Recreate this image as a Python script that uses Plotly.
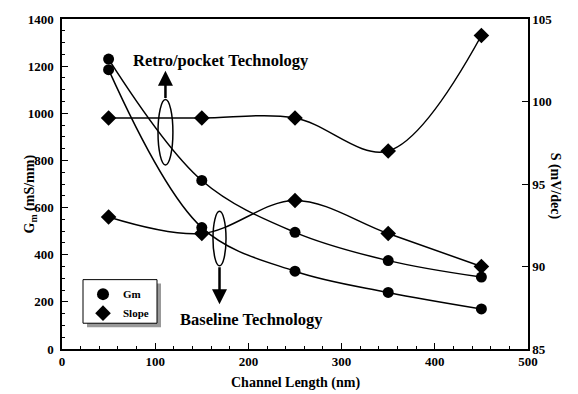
import plotly.graph_objects as go

# ---- data ----
channel_length = [50, 150, 250, 350, 450]
gm_retro = [1230, 715, 495, 375, 305]
gm_baseline = [1185, 515, 330, 240, 170]
slope_retro = [99, 99, 99, 97, 104]
slope_baseline = [93, 92, 94, 92, 90]

x_ticks = [0, 100, 200, 300, 400, 500]
gm_ticks = [0, 200, 400, 600, 800, 1000, 1200, 1400]
s_ticks = [85, 90, 95, 100, 105]

FONT = "Liberation Serif, Times New Roman, serif"
line_style = dict(color="black", width=1.5, shape="spline", smoothing=1.0)

fig = go.Figure()
for ys in (gm_retro, gm_baseline):
    fig.add_trace(go.Scatter(x=channel_length, y=ys, mode="lines+markers",
                             line=line_style,
                             marker=dict(symbol="circle", size=11, color="black"),
                             showlegend=False, yaxis="y"))
for ys in (slope_retro, slope_baseline):
    fig.add_trace(go.Scatter(x=channel_length, y=ys, mode="lines+markers",
                             line=line_style,
                             marker=dict(symbol="diamond", size=12, color="black"),
                             showlegend=False, yaxis="y2"))
# legend-only entries
fig.add_trace(go.Scatter(x=[None], y=[None], mode="markers", name="Gm",
                         marker=dict(symbol="circle", size=13, color="black")))
fig.add_trace(go.Scatter(x=[None], y=[None], mode="markers", name="Slope",
                         marker=dict(symbol="diamond", size=13, color="black")))

tickfont = dict(family=FONT, size=13, color="black", weight="bold")

fig.update_layout(
    width=578, height=394,
    margin=dict(l=62, r=50, t=16, b=45),
    paper_bgcolor="white", plot_bgcolor="white",
    font=dict(family=FONT, color="black"),
    xaxis=dict(range=[0, 500], tickvals=x_ticks, ticks="inside", ticklen=6,
               tickwidth=1, tickcolor="black",
               minor=dict(dtick=20, ticks="inside", ticklen=3, tickcolor="black"),
               showline=True, linecolor="black", linewidth=1.5, mirror=True,
               showgrid=False, zeroline=False, tickfont=tickfont),
    yaxis=dict(range=[0, 1400], tickvals=gm_ticks, ticks="inside", ticklen=6,
               tickwidth=1, tickcolor="black",
               minor=dict(dtick=50, ticks="inside", ticklen=3, tickcolor="black"),
               showline=True, linecolor="black", linewidth=1.5,
               showgrid=False, zeroline=False, tickfont=tickfont,
               ticklabelstandoff=4),
    yaxis2=dict(range=[85, 105], tickvals=s_ticks, ticks="inside", ticklen=6,
                tickwidth=1, tickcolor="black", overlaying="y", side="right",
                showline=True, linecolor="black", linewidth=1.5,
                showgrid=False, zeroline=False, tickfont=tickfont),
    legend=dict(x=(83 - 62) / 466, y=1 - (279 - 16) / 333,
                xanchor="left", yanchor="top",
                bgcolor="rgba(0,0,0,0)", borderwidth=0,
                font=dict(family=FONT, size=11, weight="bold"),
                itemsizing="constant", tracegroupgap=0),
    showlegend=True,
)

# titles
fig.add_annotation(text="Channel Length (nm)", xref="paper", yref="paper",
                   x=0.5, y=-0.102, showarrow=False, yanchor="middle",
                   font=dict(family=FONT, size=14, weight="bold"))
fig.add_annotation(text="G<sub>m</sub> (mS/mm)", xref="paper", yref="paper",
                   x=-0.090, y=0.47, showarrow=False, textangle=-90,
                   font=dict(family=FONT, size=14, weight="bold"))
fig.add_annotation(text="S (mV/dec)", xref="paper", yref="paper",
                   x=1.079, y=0.4925, showarrow=False, textangle=90,
                   font=dict(family=FONT, size=14, weight="bold"))

# technology labels
fig.add_annotation(text="Retro/pocket Technology", x=170.6, y=1226,
                   showarrow=False, font=dict(family=FONT, size=16.5, weight="bold"))
fig.add_annotation(text="Baseline Technology", x=202.8, y=126,
                   showarrow=False, font=dict(family=FONT, size=16.5, weight="bold"))

# ellipses
fig.add_shape(type="circle", xref="x", yref="y", x0=103, x1=119, y0=781, y1=1058,
              line=dict(color="black", width=1.5))
fig.add_shape(type="circle", xref="x", yref="y", x0=162, x1=176, y0=353, y1=584,
              line=dict(color="black", width=1.5))
# arrows
fig.add_annotation(x=111, y=1180, ax=111, ay=1058, axref="x", ayref="y",
                   xref="x", yref="y", showarrow=True, arrowhead=2,
                   arrowsize=1.2, arrowwidth=2.5, arrowcolor="black", text="")
fig.add_annotation(x=169, y=190, ax=169, ay=353, axref="x", ayref="y",
                   xref="x", yref="y", showarrow=True, arrowhead=2,
                   arrowsize=1.2, arrowwidth=2.5, arrowcolor="black", text="")

# legend box with shadow
def px_x(p):
    return (p - 62) / 466

def px_y(p):
    return 1 - (p - 16) / 333

fig.add_shape(type="rect", xref="paper", yref="paper",
              x0=px_x(87), x1=px_x(161), y0=px_y(327), y1=px_y(283),
              fillcolor="#999999", line=dict(width=0), layer="above")
fig.add_shape(type="rect", xref="paper", yref="paper",
              x0=px_x(83), x1=px_x(157), y0=px_y(323), y1=px_y(279),
              fillcolor="white", line=dict(color="black", width=1), layer="above")

fig.write_html("out.html")
